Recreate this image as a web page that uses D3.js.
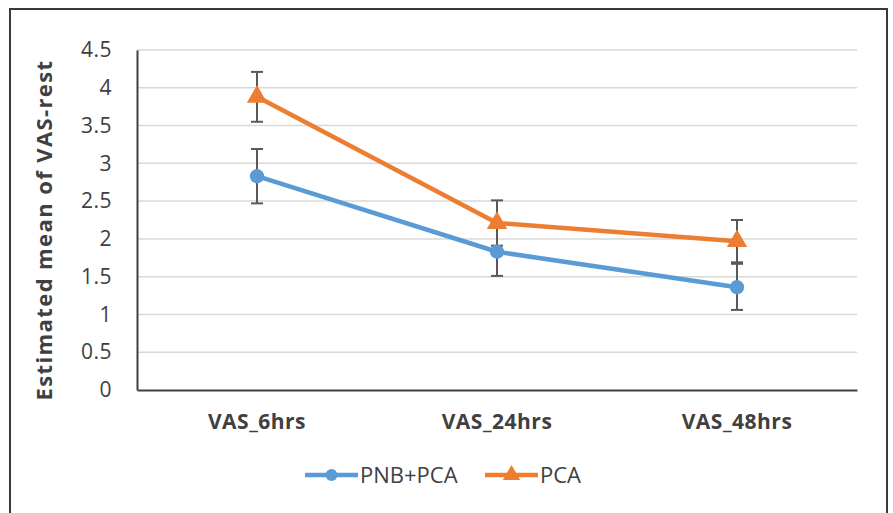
<!DOCTYPE html>
<html>
<head>
<meta charset="utf-8">
<script src="https://cdn.jsdelivr.net/npm/d3@7"></script>
<style>
  body { margin: 0; background: #fff; }
  text { font-family: "Open Sans", "Noto Sans", sans-serif; fill: #404040; }
</style>
</head>
<body>
<div id="chart"></div>
<script>
// values
var categories = ["VAS_6hrs", "VAS_24hrs", "VAS_48hrs"];
var seriesNames = ["PNB+PCA", "PCA"];
var pnbMean = [2.83, 1.83, 1.36];
var pnbLow  = [2.47, 1.51, 1.06];
var pnbHigh = [3.19, 2.15, 1.67];
var pcaMean = [3.88, 2.21, 1.97];
var pcaLow  = [3.55, 1.91, 1.69];
var pcaHigh = [4.21, 2.51, 2.25];
var yTicks = [0, 0.5, 1, 1.5, 2, 2.5, 3, 3.5, 4, 4.5];
var yTickLabels = ["0", "0.5", "1", "1.5", "2", "2.5", "3", "3.5", "4", "4.5"];

var width = 893, height = 513;
var margin = {left: 137, right: 36, top: 50, bottom: 123};

var svg = d3.select("#chart").append("svg")
    .attr("width", width).attr("height", height);

// outer frame
svg.append("rect")
    .attr("x", 10).attr("y", 9)
    .attr("width", 877).attr("height", 520)
    .attr("fill", "none").attr("stroke", "#3a3a3a").attr("stroke-width", 2);

var xScale = d3.scaleBand().domain(categories)
    .range([margin.left, width - margin.right]);
var yScale = d3.scaleLinear().domain([0, 4.5])
    .range([height - margin.bottom, margin.top]);

// gridlines
svg.append("g").selectAll("line").data(yTicks.slice(1)).enter().append("line")
    .attr("x1", margin.left).attr("x2", width - margin.right)
    .attr("y1", function(d) { return yScale(d); })
    .attr("y2", function(d) { return yScale(d); })
    .attr("stroke", "#d9d9d9").attr("stroke-width", 1.5);

// y axis
var yAxis = d3.axisLeft(yScale).tickValues(yTicks)
    .tickFormat(function(d, i) { return yTickLabels[i]; })
    .tickSize(0).tickPadding(25);
var gy = svg.append("g").attr("transform", "translate(" + margin.left + ",0)").call(yAxis);
gy.select(".domain").attr("stroke", "#404040").attr("stroke-width", 2);
gy.selectAll("text").style("font-size", "21px").style("font-family", "Open Sans, sans-serif")
    .style("letter-spacing", "0.5px").attr("fill", "#404040");

// x axis
var xAxis = d3.axisBottom(xScale).tickSize(0).tickPadding(24);
var gx = svg.append("g").attr("transform", "translate(0," + yScale(0) + ")").call(xAxis);
gx.select(".domain").attr("stroke", "#404040").attr("stroke-width", 2);
gx.selectAll("text").style("font-size", "21px").style("font-weight", "bold")
    .style("font-family", "Open Sans, sans-serif").style("letter-spacing", "0.5px")
    .attr("fill", "#404040");

// y title
svg.append("text")
    .attr("transform", "translate(52," + 230 + ") rotate(-90)")
    .attr("text-anchor", "middle")
    .style("font-size", "22px").style("font-weight", "bold").style("letter-spacing", "1.4px")
    .text("Estimated mean of VAS-rest");

var cx = function(i) { return xScale(categories[i]) + xScale.bandwidth() / 2; };

var series = [
  {name: seriesNames[0], mean: pnbMean, low: pnbLow, high: pnbHigh, color: "#5b9bd5", shape: d3.symbolCircle},
  {name: seriesNames[1], mean: pcaMean, low: pcaLow, high: pcaHigh, color: "#ed7d31", shape: d3.symbolTriangle}
];

var line = d3.line()
    .x(function(d, i) { return cx(i); })
    .y(function(d) { return yScale(d); });

series.forEach(function(s) {
  svg.append("path").datum(s.mean)
      .attr("d", line).attr("fill", "none")
      .attr("stroke", s.color).attr("stroke-width", 4.5)
      .attr("stroke-linejoin", "round");
});

// error bars
series.forEach(function(s) {
  var g = svg.append("g").attr("stroke", "#595959").attr("stroke-width", 2);
  s.mean.forEach(function(m, i) {
    var x = cx(i);
    g.append("line").attr("x1", x).attr("x2", x)
        .attr("y1", yScale(s.low[i])).attr("y2", yScale(s.high[i]));
    [s.low[i], s.high[i]].forEach(function(v) {
      g.append("line").attr("x1", x - 6).attr("x2", x + 6)
          .attr("y1", yScale(v)).attr("y2", yScale(v));
    });
  });
});

// markers
series.forEach(function(s) {
  var sym = d3.symbol().type(s.shape).size(s.shape === d3.symbolCircle ? 160 : 180);
  svg.append("g").selectAll("path").data(s.mean).enter().append("path")
      .attr("d", sym)
      .attr("transform", function(d, i) { return "translate(" + cx(i) + "," + yScale(d) + ")"; })
      .attr("fill", s.color);
});

// legend
var legendX = [305, 485];
series.forEach(function(s, i) {
  var g = svg.append("g").attr("transform", "translate(" + legendX[i] + ",475)");
  g.append("line").attr("x1", 0).attr("x2", 53).attr("y1", 0).attr("y2", 0)
      .attr("stroke", s.color).attr("stroke-width", 4.5);
  g.append("path")
      .attr("d", d3.symbol().type(s.shape).size(s.shape === d3.symbolCircle ? 110 : 130))
      .attr("transform", "translate(26.5,0)").attr("fill", s.color);
  g.append("text").attr("x", 55).attr("y", 8)
      .style("font-size", "22px").text(s.name);
});
</script>
</body>
</html>
